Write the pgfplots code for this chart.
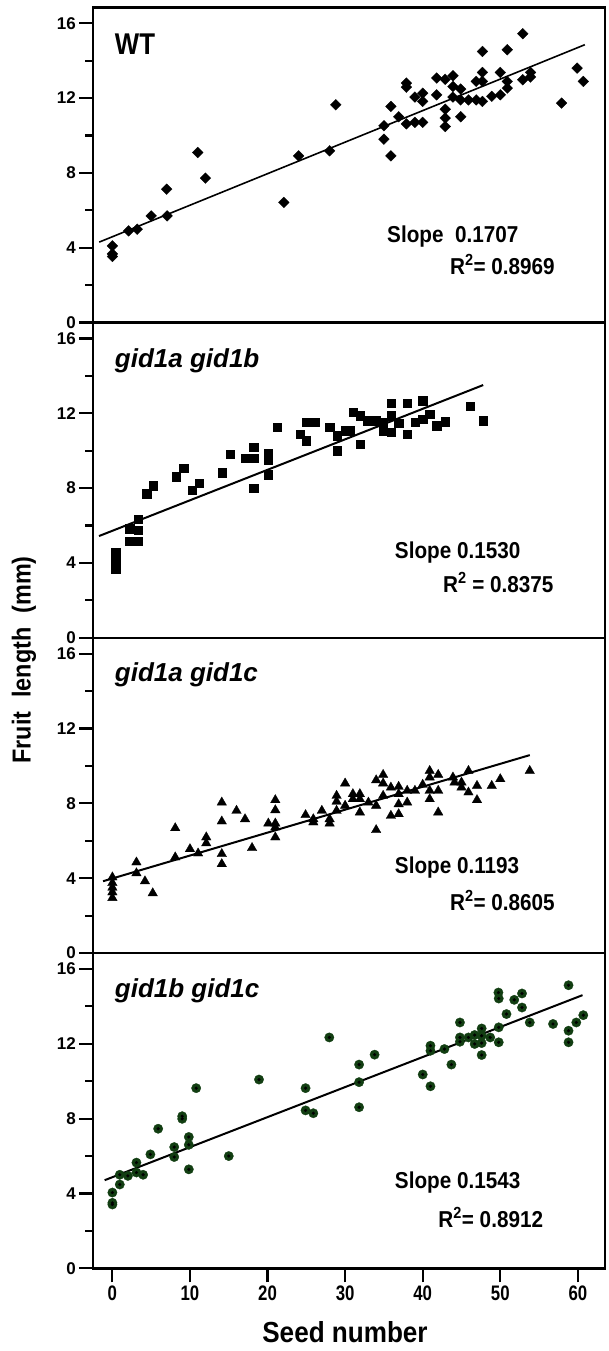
\documentclass[border=0pt]{standalone}
\usepackage{fontspec}
\setmainfont{Liberation Sans}
\newfontfamily\narrowa{Liberation Sans}[FakeStretch=0.9]
\newfontfamily\narrowb{Liberation Sans}[FakeStretch=0.8]
\newfontfamily\narrowc{Liberation Sans}[FakeStretch=0.86]
\usepackage{pgfplots}
\pgfplotsset{compat=1.18}
\definecolor{dkgreen}{RGB}{18,62,18}

\pgfplotstableread{
x y
0 4.1
0 3.67
0 3.53
2.1 4.9
3.2 4.99
5.0 5.7
7.05 5.7
7.0 7.13
11.0 9.09
12.0 7.72
22.1 6.42
24.0 8.91
28.0 9.18
28.8 11.64
35.0 10.52
35.0 9.8
35.9 8.91
35.9 11.55
36.9 11.0
37.9 12.8
37.9 12.58
37.9 10.62
39.0 12.05
39.0 10.7
40.0 12.26
40.0 11.82
40.0 10.7
41.8 13.07
41.8 12.17
42.9 13.0
42.9 11.4
42.9 10.93
42.9 10.48
43.9 13.19
43.9 12.62
43.9 12.05
44.9 12.48
44.9 11.9
44.9 11.0
45.9 11.9
46.9 12.89
46.9 11.9
47.7 14.49
47.7 13.37
47.7 12.89
47.7 11.82
48.9 12.09
50.0 13.37
50.0 12.17
50.9 14.58
50.9 12.89
50.9 12.53
52.9 15.44
52.9 12.98
53.9 13.37
53.9 13.12
57.9 11.73
59.9 13.6
60.7 12.89
}\wt

\pgfplotstableread{
x y
0.43 4.55
0.43 4.14
0.43 3.70
2.24 5.83
2.24 5.16
3.3 6.33
3.3 5.74
3.3 5.16
4.4 7.7
5.25 8.14
8.2 8.62
9.2 9.07
10.3 7.88
11.2 8.27
14.15 8.82
15.2 9.83
17.2 9.6
18.2 10.19
18.2 9.6
18.2 8.0
20.1 9.88
20.1 9.53
20.1 8.71
21.2 11.25
24.2 10.9
25.0 10.54
25.0 11.52
26.1 11.52
28.0 11.25
29.0 10.8
29.0 10.0
30.0 11.08
30.6 11.08
31.0 12.05
31.9 10.36
31.9 11.88
32.9 11.6
34.0 11.6
34.9 11.08
34.9 11.52
35.9 12.55
35.9 11.88
35.9 11.0
36.9 11.48
38.0 12.55
38.0 10.9
39.0 11.52
40.0 12.68
40.0 11.7
40.9 11.96
41.8 11.34
42.9 11.56
46.1 12.37
47.8 11.6
}\ab

\pgfplotstableread{
x y
0 4.05
0 3.75
0 3.5
0 3.25
0 2.95
3.1 4.85
3.1 4.27
4.2 3.84
5.2 3.2
8.1 6.68
8.1 5.12
10.0 5.56
11.05 5.33
12.1 6.19
12.1 5.87
14.1 8.05
14.1 7.04
14.1 5.3
14.1 4.76
16.0 7.61
17.1 7.16
18.0 5.62
20.1 6.93
21.0 8.18
21.0 7.64
21.0 6.93
21.0 6.72
21.0 6.19
24.9 7.38
25.9 7.16
25.9 6.99
27.0 7.61
28.0 6.93
28.0 7.16
28.9 8.41
28.9 8.1
28.9 7.61
30.0 9.07
30.0 7.88
31.0 8.5
31.0 8.23
31.9 8.5
31.9 8.23
31.9 7.52
33.0 8.05
34.0 9.24
34.0 7.88
34.0 6.58
34.9 9.53
34.9 9.07
34.9 8.41
35.9 8.85
35.9 7.34
36.9 8.89
36.9 8.5
36.9 7.96
36.9 7.43
38.0 8.68
38.0 8.05
39.0 8.68
40.0 9.0
40.9 9.74
40.9 9.39
40.9 8.68
40.9 8.23
42.0 9.53
42.0 8.68
42.0 7.52
43.9 9.39
44.1 9.12
45.0 9.12
45.0 8.85
45.9 9.74
45.9 8.59
47.0 8.94
47.0 8.18
48.9 8.94
50.0 9.3
53.8 9.74
}\ac

\pgfplotstableread{
x y
0 4.05
0 3.41
0 3.5
0.95 4.48
0.95 5.0
2.0 4.94
3.1 5.65
3.1 5.12
3.96 5.0
4.9 6.09
5.9 7.46
7.97 6.48
7.97 5.95
9.0 8.13
9.0 7.99
9.85 7.02
9.85 6.6
9.85 5.29
10.8 9.63
15.0 6.0
18.9 10.09
24.9 9.63
24.9 8.44
25.9 8.29
27.96 12.34
31.8 10.89
31.8 9.95
31.8 8.61
33.8 11.42
40.0 10.36
41.0 11.9
41.0 11.63
41.0 9.73
42.8 11.72
43.7 10.89
44.8 13.14
44.8 12.34
44.8 12.11
45.9 12.34
46.7 12.47
46.7 11.99
47.6 12.82
47.6 12.43
47.6 12.04
47.6 11.4
48.7 12.34
49.76 14.74
49.8 14.42
49.8 12.88
49.8 12.08
50.8 13.59
51.8 14.35
52.8 14.69
52.8 13.94
53.8 13.14
56.8 13.06
58.8 15.13
58.8 12.7
58.8 12.08
59.8 13.14
60.7 13.53
}\bc

\pgfplotsset{
  panel/.style={
    scale only axis, width=512pt, height=315.25pt,
    xmin=-2.5, xmax=63.5, ymin=0, ymax=16.85,
    axis line style={line width=2.6pt},
    ytick={0,4,8,12,16}, minor ytick={2,6,10,14},
    tick align=outside, ytick pos=left, xtick pos=bottom,
    major tick length=14pt, minor tick length=8pt,
    tick style={line width=2.2pt, black},
    every minor tick/.style={line width=2.2pt, black},
    /pgf/number format/assume math mode=true,
    yticklabel style={font=\fontsize{17}{17}\selectfont\bfseries, inner sep=3pt},
    clip=false,
  },
  inner/.style={xtick=\empty, minor xtick={0,10,20,30,40,50,60}},
  fitline/.style={no marks, black, line width=2pt},
}
\tikzset{
  slope/.style={anchor=west, font=\fontsize{23}{23}\selectfont\narrowa\bfseries, inner sep=0pt},
  ttl/.style={anchor=base west, inner sep=0pt},
}

\begin{document}
\begin{tikzpicture}
\path[use as bounding box] (0,0) rectangle (609pt,-1351pt);

% Panel 1: WT
\begin{axis}[panel, inner, name=p1, at={(93pt,-7.3pt)}, anchor=north west]
\addplot[only marks, mark=square*, mark size=3.8pt, mark options={rotate=45, fill=black, draw=black, line width=0.3pt}] table[x=x,y=y] {\wt};
\addplot[no marks, black, line width=1.6pt] coordinates {(-1.7,4.3) (60.9,14.85)};
\node[ttl, font=\fontsize{30}{30}\selectfont\narrowc\bfseries] at (axis cs:0.3,14.31) {WT};
\node[slope] at (axis cs:35.4,4.58) {Slope\ \ 0.1707};
\node[slope] at (axis cs:43.5,3.08) {R\textsuperscript{2}= 0.8969};
\end{axis}

% Panel 2
\begin{axis}[panel, inner, name=p2, at={(p1.south west)}, anchor=north west]
\addplot[only marks, mark=square*, mark size=4.2pt, mark options={fill=black, draw=black, line width=0.3pt}] table[x=x,y=y] {\ab};
\addplot[fitline] coordinates {(-1.72,5.44) (47.8,13.51)};
\node[ttl, font=\fontsize{26}{26}\selectfont\bfseries\itshape] at (axis cs:0.3,14.45) {gid1a gid1b};
\node[slope] at (axis cs:36.4,4.57) {Slope 0.1530};
\node[slope] at (axis cs:42.6,2.97) {R\textsuperscript{2} = 0.8375};
\end{axis}

% Panel 3
\begin{axis}[panel, inner, name=p3, at={(p2.south west)}, anchor=north west]
\addplot[only marks, mark=triangle*, mark size=5.5pt, mark options={fill=black, draw=black, line width=0.3pt}] table[x=x,y=y] {\ac};
\addplot[fitline] coordinates {(-1.2,3.84) (53.8,10.58)};
\node[ttl, font=\fontsize{26}{26}\selectfont\bfseries\itshape] at (axis cs:0.3,14.54) {gid1a gid1c};
\node[slope] at (axis cs:36.4,4.57) {Slope 0.1193};
\node[slope] at (axis cs:43.5,2.81) {R\textsuperscript{2}= 0.8605};
\end{axis}

% Panel 4
\begin{axis}[panel, name=p4, at={(p3.south west)}, anchor=north west,
  xtick={0,10,20,30,40,50,60},
  xticklabel style={font=\fontsize{21}{21}\selectfont\narrowb\bfseries, inner sep=3pt}]
\addplot[only marks, mark=*, mark size=4.7pt, mark options={fill=dkgreen, draw=dkgreen, line width=0.3pt}] table[x=x,y=y] {\bc};
\addplot[only marks, mark=*, mark size=1.4pt, mark options={fill=black, draw=black}] table[x=x,y=y] {\bc};
\addplot[fitline] coordinates {(-1.0,4.71) (60.6,14.6)};
\node[ttl, font=\fontsize{26}{26}\selectfont\bfseries\itshape] at (axis cs:0.3,14.46) {gid1b gid1c};
\node[slope] at (axis cs:36.4,4.6) {Slope 0.1543};
\node[slope] at (axis cs:42.0,2.73) {R\textsuperscript{2}= 0.8912};
\end{axis}

\node[rotate=90, font=\fontsize{26}{26}\selectfont\narrowa\bfseries, inner sep=0pt] at (24pt,-660pt) {Fruit\hspace{14pt}length\hspace{14pt}(mm)};
\node[anchor=base, font=\fontsize{29}{29}\selectfont\narrowa\bfseries, inner sep=0pt] at (345pt,-1342pt) {Seed number};
\end{tikzpicture}
\end{document}
